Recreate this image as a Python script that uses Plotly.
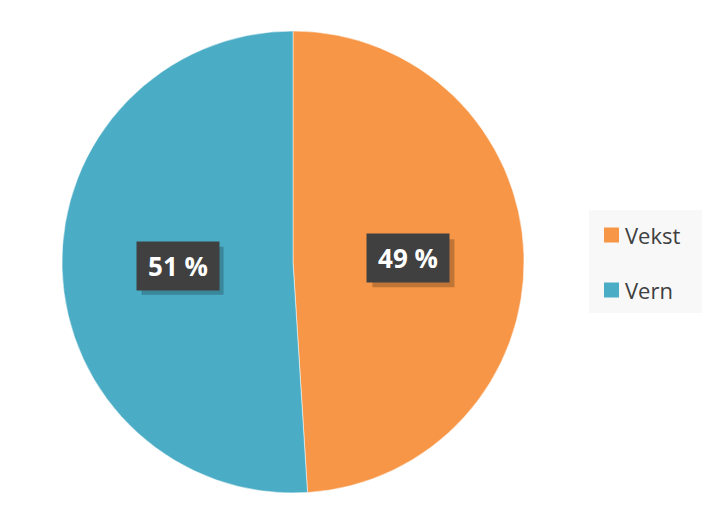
import math
import plotly.graph_objects as go

categories = ["Vekst", "Vern"]
values = [49, 51]
colors = ["#F79646", "#4BACC6"]

OFF = 8  # default page body margin
W, H = 718 - 2 * OFF, 523 - 2 * OFF
CX, CY, R = 293, 262, 231  # pie centre / radius in window pixels


def px2paper(x, y):
    return (x - OFF) / W, 1 - (y - OFF) / H


fig = go.Figure()
dx0, dy0 = px2paper(CX - R, CY + R)
dx1, dy1 = px2paper(CX + R, CY - R)
fig.add_trace(go.Pie(
    labels=categories,
    values=values,
    marker=dict(colors=colors, line=dict(color="white", width=0.5)),
    sort=False,
    direction="clockwise",
    rotation=0,
    textinfo="none",
    hoverinfo="label+percent",
    showlegend=False,
    domain=dict(x=[dx0, dx1], y=[dy0, dy1]),
))

shapes = []
annotations = []
total = sum(values)
cum = 0
for cat, v in zip(categories, values):
    mid = (cum + v / 2) / total * 2 * math.pi
    cum += v
    lx = CX + 0.5 * R * math.sin(mid)
    ly = CY - 0.5 * R * math.cos(mid)
    bw, bh = 82, 48
    # shadow
    x0, y0 = px2paper(lx - bw / 2 + 5, ly - bh / 2 + 5)
    x1, y1 = px2paper(lx + bw / 2 + 5, ly + bh / 2 + 5)
    shapes.append(dict(type="rect", xref="paper", yref="paper", x0=x0, x1=x1, y0=y0, y1=y1,
                       fillcolor="rgba(0,0,0,0.22)", line=dict(width=0), layer="above"))
    ax, ay = px2paper(lx, ly)
    annotations.append(dict(
        x=ax, y=ay, xref="paper", yref="paper", xanchor="center", yanchor="middle",
        text=f"<b>{round(v / total * 100)} %</b>", showarrow=False,
        font=dict(family="Open Sans", size=26, color="white"),
        bgcolor="#404040", width=bw - 2, height=bh - 2, borderpad=1,
    ))

# legend (manual, to match spacing)
lx0, lx1, ly0, ly1 = 589, 702, 210, 313
x0, y0 = px2paper(lx0, ly1)
x1, y1 = px2paper(lx1, ly0)
shapes.insert(0, dict(type="rect", xref="paper", yref="paper", x0=x0, x1=x1, y0=y0, y1=y1,
                      fillcolor="#F8F8F8", line=dict(width=0), layer="below"))
item_y = [235, 290]
for cat, col, yy in zip(categories, colors, item_y):
    sx0, sy0 = px2paper(604, yy + 7.5)
    sx1, sy1 = px2paper(619, yy - 7.5)
    shapes.append(dict(type="rect", xref="paper", yref="paper", x0=sx0, x1=sx1, y0=sy0, y1=sy1,
                       fillcolor=col, line=dict(width=0)))
    tx, ty = px2paper(623, yy)
    annotations.append(dict(x=tx, y=ty, xref="paper", yref="paper", xanchor="left", yanchor="middle",
                            text=cat, showarrow=False,
                            font=dict(family="Open Sans", size=22, color="#404040")))

fig.update_layout(
    width=W, height=H,
    margin=dict(l=0, r=0, t=0, b=0),
    paper_bgcolor="white", plot_bgcolor="white",
    shapes=shapes, annotations=annotations,
)
fig.write_html("out.html")
